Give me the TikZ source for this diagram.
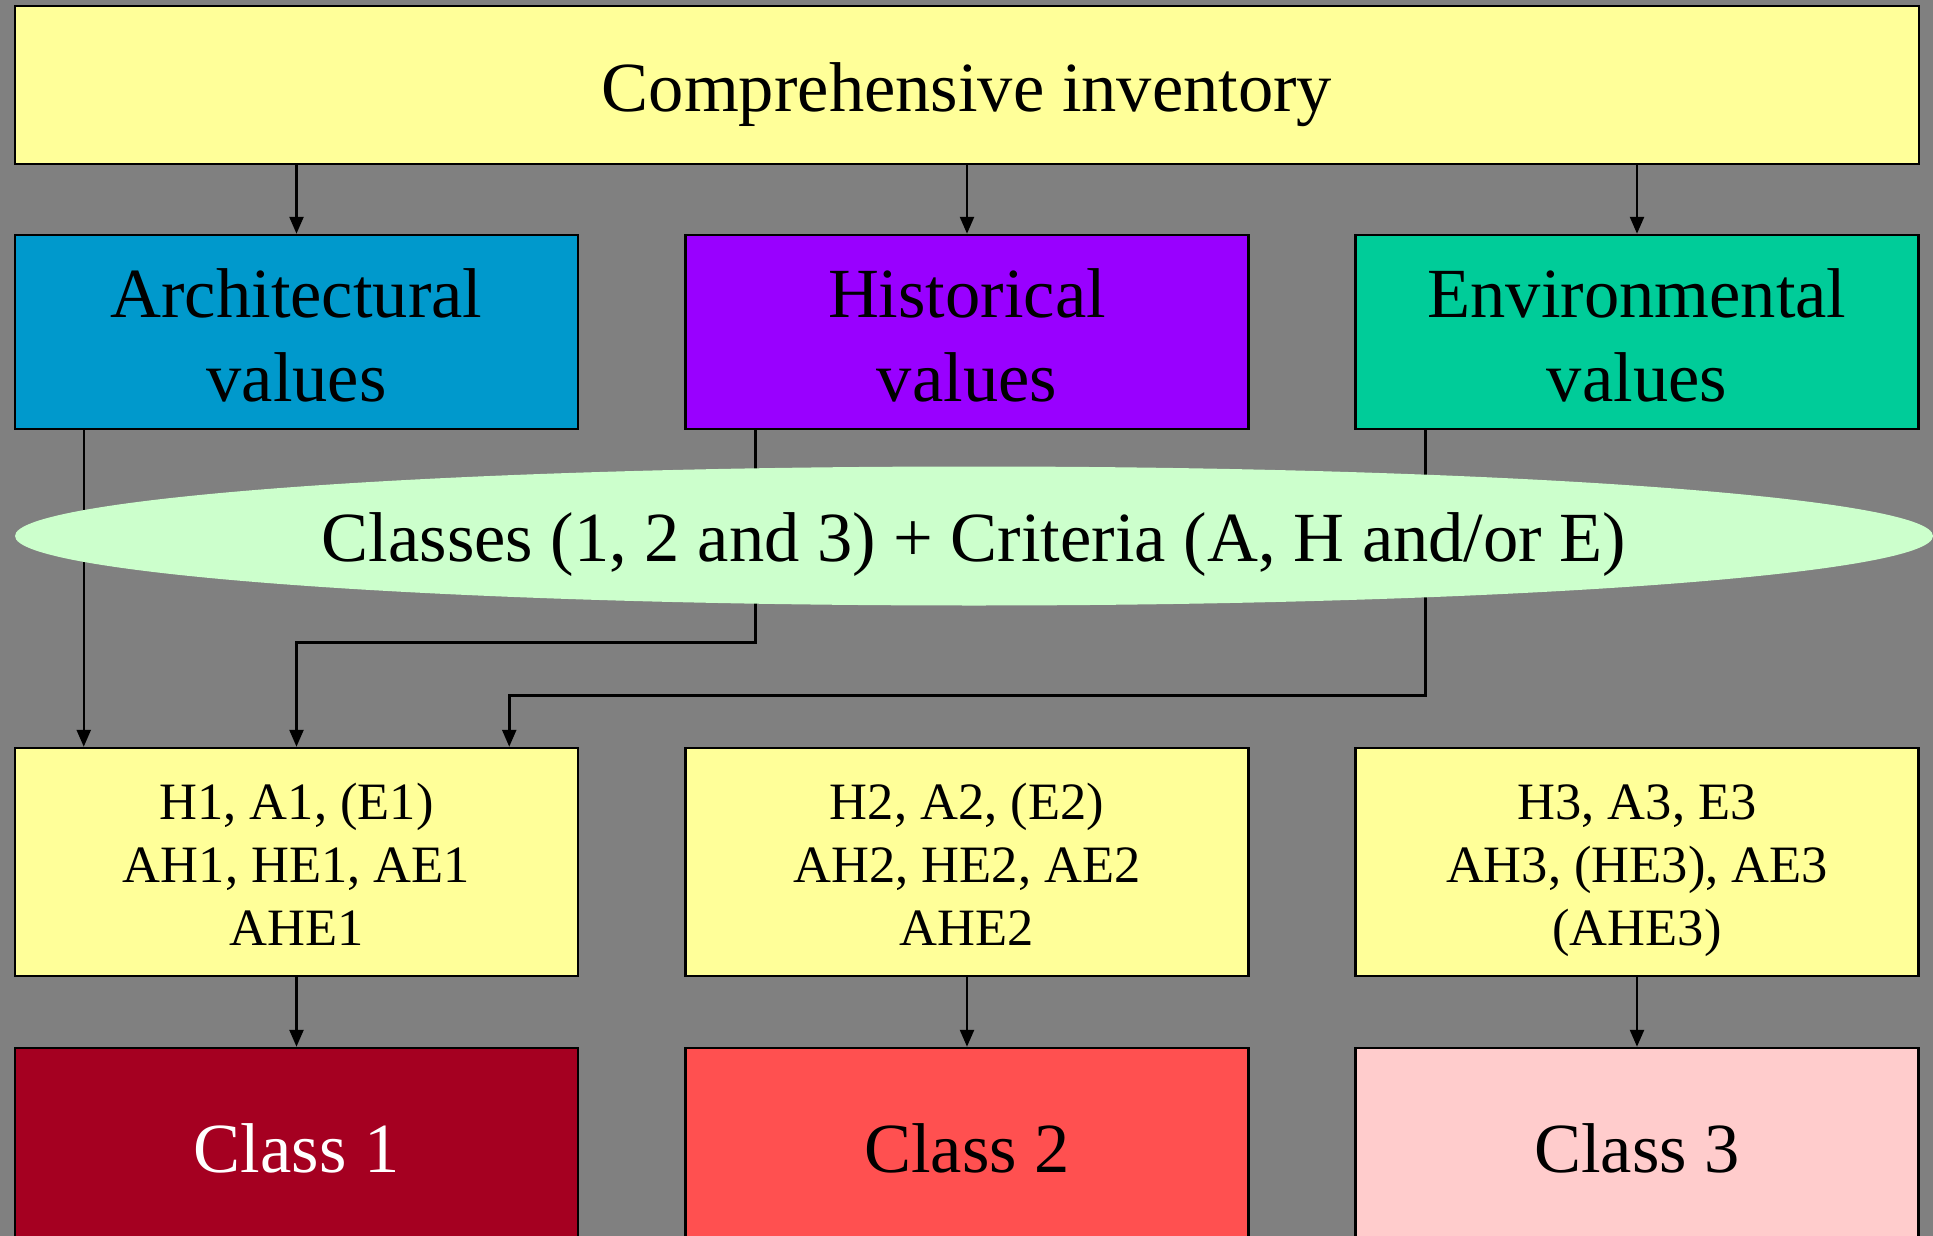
\documentclass[tikz,border=0pt]{standalone}
\usepackage{fontspec}
\setmainfont{Liberation Serif}
\usetikzlibrary{shapes.geometric,arrows.meta}
\definecolor{bggray}{HTML}{808080}
\definecolor{lyellow}{HTML}{FFFF99}
\definecolor{archblue}{HTML}{0099CC}
\definecolor{histviolet}{HTML}{9900FF}
\definecolor{envgreen}{HTML}{00CC99}
\definecolor{ellgreen}{HTML}{CCFFCC}
\definecolor{cls1}{HTML}{A50021}
\definecolor{cls2}{HTML}{FF5050}
\definecolor{cls3}{HTML}{FFCCCC}
\tikzset{
  box/.style={draw=black, line width=2.5pt, rectangle, inner sep=0pt,
    minimum width=563pt},
  bigtext/.style={font=\fontsize{70.5}{84}\selectfont, inner sep=0pt, anchor=base, align=center, text=black},
  smalltext/.style={font=\fontsize{52.5}{63}\selectfont, inner sep=0pt, anchor=base, align=center, text=black},
  arr/.style={draw=black, line width=2.5pt, -{Triangle[length=17pt,width=14pt]}},
}
\begin{document}
\begin{tikzpicture}[x=1pt,y=-1pt]
\useasboundingbox (0,0) rectangle (1933,1236);
\clip (0,0) rectangle (1933,1236);
\fill[bggray] (0,0) rectangle (1933,1236);

% boxes
\node[box, fill=lyellow, minimum width=1904pt, minimum height=158pt] (top) at (967,85) {};

\node[box, fill=archblue, minimum height=194pt] (a) at (296.5,332) {};
\node[box, fill=histviolet, minimum height=194pt] (h) at (967,332) {};
\node[box, fill=envgreen, minimum height=194pt] (e) at (1637,332) {};

\node[box, fill=lyellow, minimum height=228pt] (r1) at (296.5,862) {};
\node[box, fill=lyellow, minimum height=228pt] (r2) at (967,862) {};
\node[box, fill=lyellow, minimum height=228pt] (r3) at (1637,862) {};

\node[box, fill=cls1, minimum height=200pt] (c1) at (296.5,1148) {};
\node[box, fill=cls2, minimum height=200pt] (c2) at (967,1148) {};
\node[box, fill=cls3, minimum height=200pt] (c3) at (1637,1148) {};

% texts (base anchor = baseline of the last line)
\node[bigtext] (topt) at (967,112) {Comprehensive inventory};
\node[bigtext] (at) at (296.5,401) {Architectural\\values};
\node[bigtext] (ht) at (967,401) {Historical\\values};
\node[bigtext] (et) at (1637,401) {Environmental\\values};

\node[smalltext] (r1t) at (296.5,945) {H1, A1, (E1)\\AH1, HE1, AE1\\AHE1};
\node[smalltext] (r2t) at (967,945) {H2, A2, (E2)\\AH2, HE2, AE2\\AHE2};
\node[smalltext] (r3t) at (1637,945) {H3, A3, E3\\AH3, (HE3), AE3\\(AHE3)};

\node[bigtext, text=white] (c1t) at (296.5,1172) {Class 1};
\node[bigtext] (c2t) at (967,1172) {Class 2};
\node[bigtext] (c3t) at (1637,1172) {Class 3};

% connectors top -> values
\draw[arr] (a.north |- top.south) -- (a.north);
\draw[arr] (h.north |- top.south) -- (h.north);
\draw[arr] (e.north |- top.south) -- (e.north);

% values -> first list box
\draw[arr] ([xshift=70pt]a.south west) -- ([xshift=70pt]r1.north west);
\draw[arr] ([xshift=71pt]h.south west) -- ++(0,212) -| (r1.north);
\draw[arr] ([xshift=71pt]e.south west) -- ++(0,265) -| ([xshift=-70pt]r1.north east);

% criteria ellipse (covers the lines)
\node[ellipse, fill=ellgreen, draw=none, inner sep=0pt, minimum width=1918pt, minimum height=139pt] (crit) at (974,536) {};
\node[bigtext] (critt) at (974,561) {Classes (1, 2 and 3) + Criteria (A, H and/or E)};

% lists -> classes
\draw[arr] (r1.south) -- (c1.north);
\draw[arr] (r2.south) -- (c2.north);
\draw[arr] (r3.south) -- (c3.north);
\end{tikzpicture}
\end{document}
